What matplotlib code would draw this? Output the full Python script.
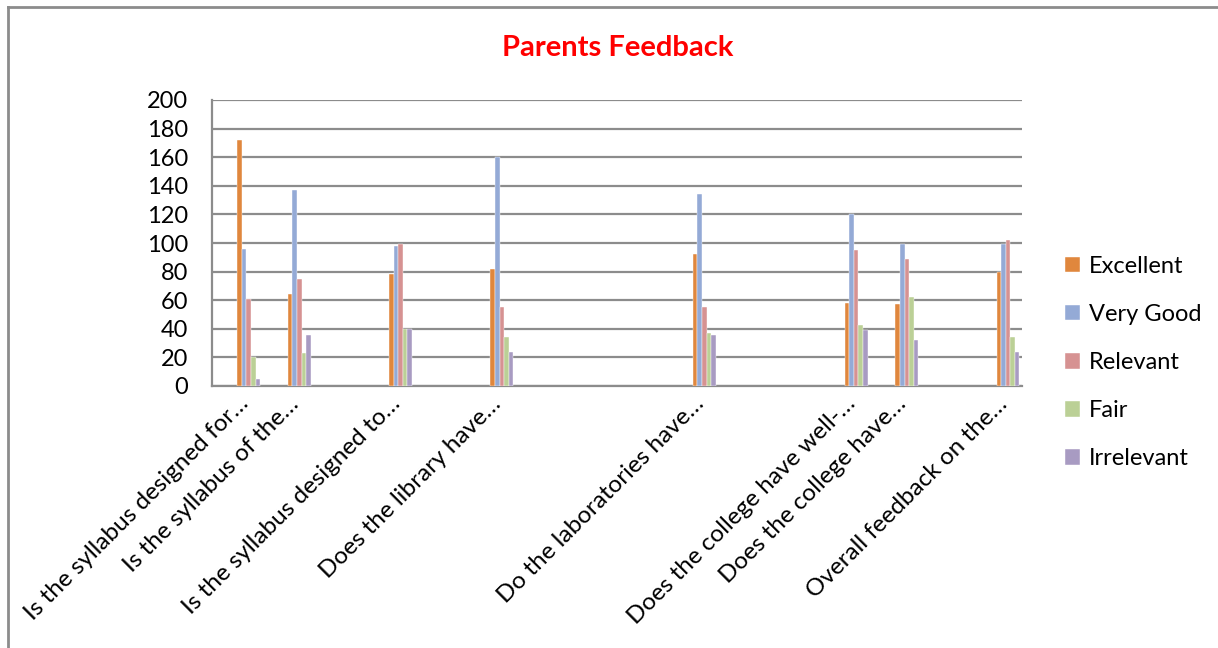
import numpy as np
import matplotlib
matplotlib.use("Agg")
import matplotlib.pyplot as plt
from matplotlib.lines import Line2D

plt.rcParams['font.family'] = ['Lato', 'DejaVu Sans']

# 16 categories in the sheet, only 8 of them filled
categories = [
    "Is the syllabus designed for…", "Is the syllabus of the…", "",
    "Is the syllabus designed to…", "", "Does the library have…", "", "", "",
    "Do the laboratories have…", "", "", "Does the college have well-…",
    "Does the college have…", "", "Overall feedback on the…",
]
nan = np.nan
excellent  = [172, 64, nan, 78, nan, 82, nan, nan, nan, 92, nan, nan, 58, 57, nan, 80]
very_good  = [96, 137, nan, 98, nan, 160, nan, nan, nan, 134, nan, nan, 120, 99, nan, 99]
relevant   = [61, 75, nan, 99, nan, 55, nan, nan, nan, 55, nan, nan, 95, 89, nan, 102]
fair       = [20, 23, nan, 40, nan, 34, nan, nan, nan, 37, nan, nan, 43, 62, nan, 34]
irrelevant = [5, 36, nan, 40, nan, 24, nan, nan, nan, 36, nan, nan, 39, 32, nan, 24]

series_names = ["Excellent", "Very Good", "Relevant", "Fair", "Irrelevant"]
series_vals = [excellent, very_good, relevant, fair, irrelevant]
colors = ['#E0873D', '#94AAD6', '#D69292', '#BBD096', '#A89BC2']

fig = plt.figure(figsize=(12.18, 6.48), dpi=100)
ax = fig.add_axes([212 / 1218, 1 - 386 / 648, 810 / 1218, 286 / 648])

x = np.arange(len(categories))
bw = 0.09
for j, (name, vals, c) in enumerate(zip(series_names, series_vals, colors)):
    ax.bar(x + j * bw, vals, width=bw, align='edge', color=c,
           edgecolor='white', linewidth=0.3, label=name, zorder=3)

ax.set_xlim(-0.5, len(categories) - 0.5)
ax.set_ylim(0, 200)
ax.set_yticks(range(0, 201, 20))
ax.yaxis.grid(True, color='#8C8C8C', linewidth=1.6, zorder=0)
ax.tick_params(axis='y', length=0, labelsize=17, pad=17)
ax.tick_params(axis='x', length=0, labelsize=17.5, pad=5)
ax.set_xticks(x)
ax.set_xticklabels(categories, rotation=45, ha='right', va='top',
                   rotation_mode='anchor')

for s in ['top', 'right']:
    ax.spines[s].set_visible(False)
ax.spines['left'].set_color('#8C8C8C')
ax.spines['bottom'].set_color('#8C8C8C')
ax.spines['left'].set_linewidth(1.6)
ax.spines['bottom'].set_linewidth(1.6)

fig.text(618 / 1218, 1 - 48 / 648, "Parents Feedback", color='#FF0000',
         fontsize=21, fontweight='bold', ha='center', va='center')

leg = ax.legend(loc='center left', bbox_to_anchor=(1.027, 0.082), frameon=False,
                fontsize=17, handlelength=0.65, handleheight=0.65,
                handletextpad=0.35, labelspacing=1.15)

# outer chart border (left and top only visible)
fig.add_artist(Line2D([8 / 1218, 8 / 1218], [0, 1 - 7 / 648],
                      transform=fig.transFigure, color='#8C8C8C', linewidth=2))
fig.add_artist(Line2D([8 / 1218, 1], [1 - 7 / 648, 1 - 7 / 648],
                      transform=fig.transFigure, color='#8C8C8C', linewidth=2))

fig.savefig('out.png', dpi=100)
